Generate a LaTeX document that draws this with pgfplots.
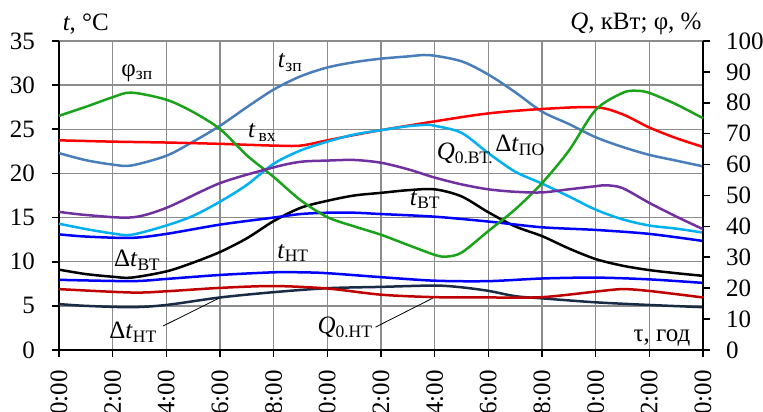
\documentclass[border=0pt]{standalone}
\usepackage{fontspec}
\setmainfont{Liberation Serif}
\usepackage{pgfplots}
\pgfplotsset{compat=1.18}
\definecolor{cSteel}{HTML}{4A7EBB}
\definecolor{cGreen}{HTML}{1AA31A}
\definecolor{cRed}{HTML}{FF0000}
\definecolor{cCyan}{HTML}{00B0F0}
\definecolor{cPurple}{HTML}{7030A0}
\definecolor{cBlue}{HTML}{0000FF}
\definecolor{cDRed}{HTML}{C00000}
\definecolor{cNavy}{HTML}{1A2B45}
\definecolor{cGrid}{HTML}{8C8C8C}
\begin{document}
\begin{tikzpicture}[font=\fontsize{25}{29}\selectfont]
\pgfplotsset{
  common/.style={
    at={(59pt,62pt)}, anchor=south west,
    scale only axis, width=644pt, height=309pt,
    xmin=0, xmax=24,
    clip=false,
    axis line style={line width=1.6pt, -},
    tick style={black, line width=1.6pt},
    tick align=outside, major tick length=7pt,
    /pgf/number format/assume math mode=true,
    every axis plot/.append style={line width=2.5pt, smooth, no markers},
  }
}
\begin{axis}[common,
  ymin=0, ymax=35,
  axis x line*=bottom, axis y line*=left,
  xtick={0,2,...,24},
  xticklabels={0:00,2:00,4:00,6:00,8:00,10:00,12:00,14:00,16:00,18:00,20:00,22:00,0:00},
  ytick={0,5,...,35},
  grid=major, grid style={cGrid, line width=1.3pt},
  xticklabel style={yshift=-13pt, rotate=90, anchor=east, inner sep=0pt},
  yticklabel style={anchor=east, inner sep=0pt, xshift=-17pt},
]
% t_zp
\addplot[cSteel] coordinates {(0,22.3)(1,21.5)(2,21.0)(2.7,20.9)(4,22.0)(5,23.6)(6,25.4)(7,27.5)(8,29.5)(9,31.0)(10,32.0)(11,32.6)(12,33.0)(13,33.25)(13.8,33.4)(15,32.7)(16,31.2)(17,29.2)(18,27.0)(19,25.6)(20,24.1)(21,23.0)(22,22.1)(23,21.45)(24,20.8)};
% t_vx
\addplot[cRed] coordinates {(0,23.75)(2,23.6)(4,23.5)(6,23.35)(8,23.15)(9,23.15)(10,23.75)(11,24.35)(12,24.9)(14,25.9)(16,26.8)(18,27.3)(20,27.5)(21,26.7)(22,25.2)(23,24.0)(24,23.0)};
% Delta t_PO
\addplot[cCyan] coordinates {(0,14.3)(1,13.7)(2,13.2)(2.7,13.05)(4,14.1)(5,15.2)(6,16.8)(7,18.7)(8,21.1)(9,22.6)(10,23.6)(11,24.4)(12,24.9)(13,25.35)(13.7,25.5)(14,25.4)(15,24.6)(16,22.3)(17,20.2)(18,18.85)(19,17.4)(20,15.9)(21,14.8)(22,14.1)(23,13.75)(24,13.3)};
% t_VT (black)
\addplot[black] coordinates {(0,9.1)(1,8.6)(2,8.3)(2.7,8.2)(4,8.9)(5,9.9)(6,11.1)(7,12.65)(8,14.6)(9,16.1)(10,16.9)(11,17.5)(12,17.8)(13,18.1)(14,18.2)(15,17.4)(16,15.6)(17,14.0)(18,12.9)(19,11.5)(20,10.3)(21,9.55)(22,9.05)(23,8.7)(24,8.4)};
% upper blue
\addplot[cBlue] coordinates {(0,13.1)(1,12.85)(2.7,12.7)(4,13.15)(6,14.2)(8,15.0)(9,15.4)(10,15.55)(11,15.55)(12,15.4)(14,15.1)(16,14.55)(18,13.9)(20,13.6)(22,13.15)(24,12.35)};
% lower blue t_NT
\addplot[cBlue] coordinates {(0,7.95)(2.7,7.8)(4,8.05)(6,8.5)(8,8.8)(9,8.8)(10,8.7)(12,8.25)(14,7.85)(16,7.8)(18,8.1)(20,8.2)(22,8.0)(24,7.6)};
% Delta t_NT (navy)
\addplot[cNavy] coordinates {(0,5.2)(1,5.0)(2.7,4.85)(4,5.1)(6,5.95)(8,6.55)(10,7.0)(12,7.15)(14,7.3)(15,7.1)(16,6.7)(17,6.1)(18,5.85)(20,5.4)(22,5.1)(24,4.85)};
% labels
\node at (axis cs:1.0,36.9) {\textit{t}, °C};
\node at (axis cs:2.91,31.4) {φ\textsubscript{зп}};
\node at (axis cs:8.61,32.6) {\textit{t}\textsubscript{зп}};
\node at (axis cs:7.57,24.6) {\textit{t}\textsubscript{\,вх}};
\node at (axis cs:15.13,22.3) {\textit{Q}\textsubscript{0.ВТ.}};
\node at (axis cs:17.18,23.2) {Δ\textit{t}\textsubscript{ПО}};
\node at (axis cs:13.64,17.0) {\textit{t}\textsubscript{ВТ}};
\node at (axis cs:2.91,10.2) {Δ\textit{t}\textsubscript{ВТ}};
\node at (axis cs:8.72,11.0) {\textit{t}\textsubscript{НТ}};
\node at (axis cs:2.76,2.04) {Δ\textit{t}\textsubscript{НТ}};
\node at (axis cs:10.66,2.6) {\textit{Q}\textsubscript{0.НТ}};
\node at (axis cs:22.47,1.36) {τ, год};
\draw[line width=0.8pt] (axis cs:3.88,2.72) -- (axis cs:5.95,5.85);
\draw[line width=0.8pt] (axis cs:11.8,2.6) -- (axis cs:13.94,5.89);
\end{axis}
\begin{axis}[common,
  ymin=0, ymax=100,
  axis x line=none, axis y line*=right,
  ytick={0,10,...,100},
  yticklabel style={anchor=west, inner sep=0pt, xshift=16pt},
]
% phi_zp
\addplot[cGreen] coordinates {(0,75.8)(1,78.7)(2,81.8)(2.7,83.3)(4,81)(5,77)(6,71.5)(7,63)(8,56)(9,48.5)(10,43)(11,40)(12,37.3)(13,34)(14,30.8)(14.4,30.2)(15,31.5)(16,38.5)(17,45.5)(18,54)(19,64.5)(20,77.7)(21,83.2)(21.5,83.9)(22,83.2)(23,79.5)(24,75)};
% Q_0.VT (purple)
\addplot[cPurple] coordinates {(0,44.7)(1,43.7)(2.7,42.9)(4,46.0)(6,54.0)(8,59.1)(9,60.9)(10,61.3)(11,61.5)(12,60.6)(13,58.5)(14,55.8)(15,53.6)(16,52.0)(17,51.2)(18,51.0)(19,52.0)(20,53.0)(20.4,53.3)(21,52.4)(22,47.6)(23,43.2)(24,39.1)};
% Q_0.NT (dark red)
\addplot[cDRed] coordinates {(0,19.7)(2.7,18.6)(4,19.0)(6,20.1)(8,20.7)(10,19.9)(12,17.9)(14,17.1)(16,17.0)(18,17.1)(20,18.9)(21,19.7)(22,19.1)(24,17.0)};
\node at (axis cs:21.5,105.6) {\textit{Q}, кВт; φ, \%};
\end{axis}
\pgfresetboundingbox
\useasboundingbox (0,0) rectangle (763pt,412pt);
\end{tikzpicture}
\end{document}
